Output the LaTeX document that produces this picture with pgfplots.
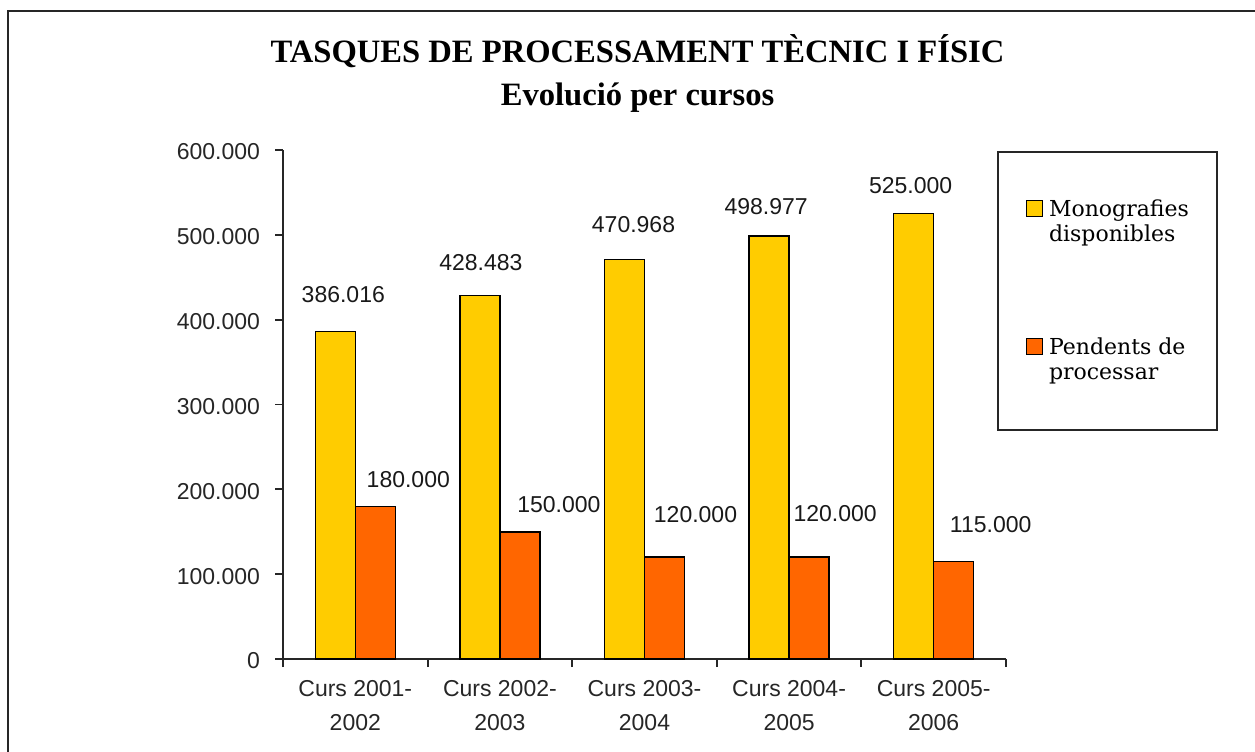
\documentclass[border=0pt]{standalone}
\usepackage{fontspec}
\usepackage{pgfplots}
\usepackage{pgfplotstable}
\pgfplotsset{compat=1.18}
\newfontfamily\arialf{Liberation Sans}
\newfontfamily\timesf{Liberation Serif}
\newfontfamily\legf{DejaVu Serif}
\definecolor{monoy}{HTML}{FFCC00}
\definecolor{pendo}{HTML}{FF6600}
\pgfkeys{/pgf/number format/.cd, fixed, precision=0, 1000 sep={.}, assume math mode=true}

\pgfplotstableread{
x y dx dy
0 386016 4 14.5
1 428483 0.5 12.5
2 470968 4.5 13.5
3 498977 -1.5 10.5
4 525000 -1.5 10
}\mono

\pgfplotstableread{
x y dx dy
0 180000 16.5 9.5
1 150000 19.5 9.5
2 120000 15.5 17.5
3 120000 13 18
4 115000 18.5 14.5
}\pend

\begin{document}
\begin{tikzpicture}
\useasboundingbox (0pt,0pt) rectangle (627.5pt,375.5pt);
\draw[line width=1.2pt, black!85] (4pt,-10pt) -- (4pt,370pt) -- (640pt,370pt);
\node[font=\timesf\bfseries\fontsize{16.3}{18}\selectfont, anchor=base] at (318.75pt,344pt) {TASQUES DE PROCESSAMENT TÈCNIC I FÍSIC};
\node[font=\timesf\bfseries\fontsize{16.3}{18}\selectfont, anchor=base] at (318.75pt,322.5pt) {Evolució per cursos};
\begin{axis}[
  at={(141.5pt,46pt)}, anchor=south west,
  scale only axis, width=361.5pt, height=254.5pt,
  xmin=-0.5, xmax=4.5, ymin=0, ymax=600000,
  clip=false,
  ybar=0pt, bar width=20pt,
  axis x line*=bottom, axis y line*=left,
  axis line style={-, line width=0.9pt, black!85},
  tick style={line width=0.9pt, black!85},
  tick align=outside,
  major tick length=4pt, minor tick length=4pt,
  xtick={0,...,4},
  xticklabels={{Curs 2001-\\2002},{Curs 2002-\\2003},{Curs 2003-\\2004},{Curs 2004-\\2005},{Curs 2005-\\2006}},
  major x tick style={draw=none},
  minor xtick={-0.5,0.5,1.5,2.5,3.5,4.5},
  ytick={0,100000,200000,300000,400000,500000,600000},
  scaled y ticks=false,
  xticklabel style={font=\arialf\fontsize{11.5}{17}\selectfont, align=center, text=black!85, yshift=-3pt},
  yticklabel style={font=\arialf\fontsize{11.5}{14}\selectfont, text=black!85, xshift=-4pt, yshift=-1pt},
  nodes near coords,
  nodes near coords style={font=\arialf\fontsize{11.5}{14}\selectfont, text=black!90},
  legend cell align=left,
  legend style={at={(rel axis cs:0.9876,0.998)}, anchor=north west,
    draw=black!85, line width=0.8pt, inner xsep=14pt, inner ysep=24pt,
    font=\legf\fontsize{11}{12.5}\selectfont,
    row sep=46.5pt, column sep=3pt,
    cells={anchor=base west, align=left},
    nodes={inner sep=0pt}},
]
\addplot[fill=monoy, draw=black, line width=0.8pt,
  visualization depends on={\thisrow{dx} \as \dx},
  visualization depends on={\thisrow{dy} \as \dy},
  every node near coord/.append style={anchor=base, xshift=\dx pt, yshift=\dy pt},
  legend image code/.code={\draw[fill=monoy, draw=black, line width=0.6pt] (0pt,12.5pt) rectangle (8pt,20.5pt);}
] table[x=x, y=y] {\mono};
\addlegendentry{Monografies\\disponibles}
\addplot[fill=pendo, draw=black, line width=0.8pt,
  visualization depends on={\thisrow{dx} \as \dx},
  visualization depends on={\thisrow{dy} \as \dy},
  every node near coord/.append style={anchor=base, xshift=\dx pt, yshift=\dy pt},
  legend image code/.code={\draw[fill=pendo, draw=black, line width=0.6pt] (0pt,12.5pt) rectangle (8pt,20.5pt);}
] table[x=x, y=y] {\pend};
\addlegendentry{Pendents de\\processar}
\end{axis}
\end{tikzpicture}
\end{document}
